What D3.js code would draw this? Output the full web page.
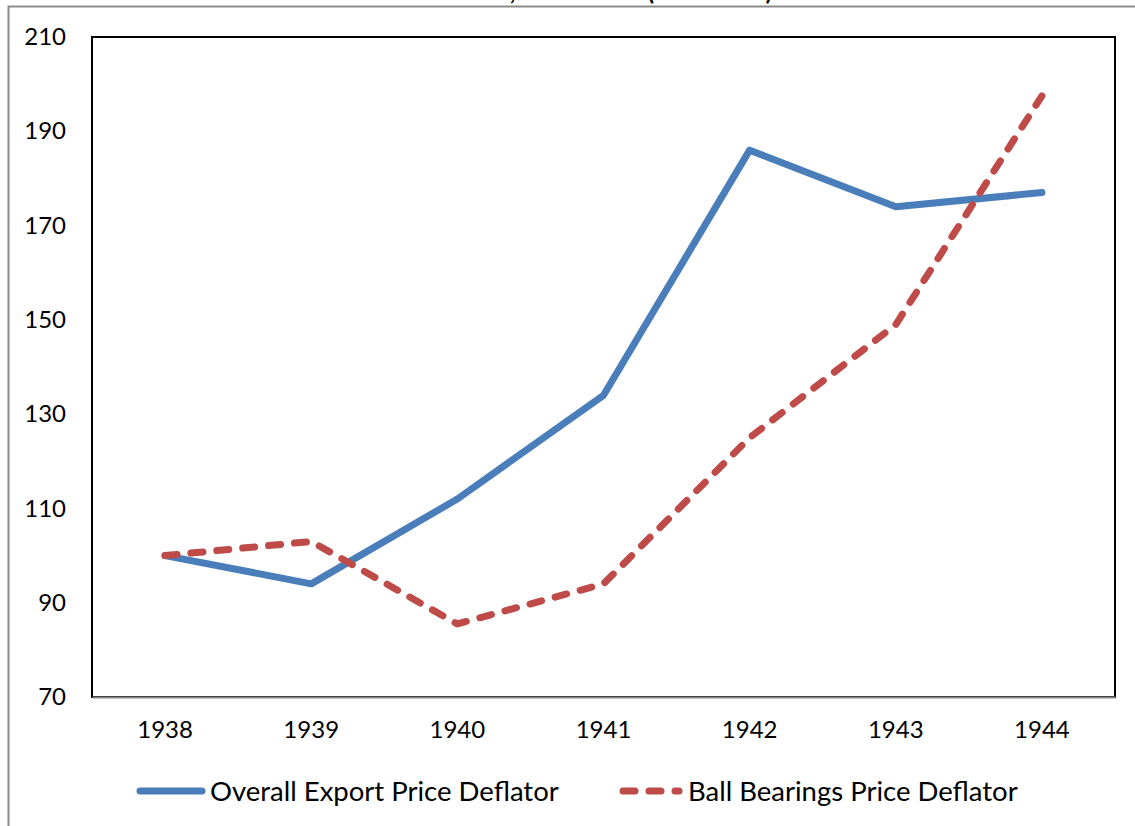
<!DOCTYPE html>
<html><head><meta charset="utf-8">
<script src="https://cdn.jsdelivr.net/npm/d3@7"></script>
<style>
html,body{margin:0;padding:0;background:#fff;}
svg{display:block;}
text{font-family:Lato,"Open Sans",sans-serif;fill:#000;}
</style></head>
<body>
<svg id="chart" width="1135" height="826"></svg>
<script>
const years = ["1938","1939","1940","1941","1942","1943","1944"];
const overallExport = [100, 94, 112, 134, 186, 174, 177];
const ballBearings = [100, 103, 85.5, 94, 125, 149, 197.5];
const yTicks = [70, 90, 110, 130, 150, 170, 190, 210];
const seriesNames = ["Overall Export Price Deflator", "Ball Bearings Price Deflator"];
const seriesColors = ["#4a7ebb", "#be4b48"];

const svg = d3.select("#chart");
const plot = {left: 92, right: 1115, top: 37, bottom: 697};

// outer chart border (cropped)
svg.append("rect").attr("x", 8.5).attr("y", 6.5).attr("width", 1200).attr("height", 1000)
  .attr("fill", "none").attr("stroke", "#8c8c8c").attr("stroke-width", 2);

// title (cropped above the frame)
svg.append("text").attr("x", 772).attr("y", -0.5).attr("text-anchor", "end")
  .style("font-size", "24px").style("font-weight", "bold")
  .text("Sweden, 1938-1944 (1938=100)");

const x = d3.scaleBand().domain(years).range([plot.left, plot.right]);
const y = d3.scaleLinear().domain([70, 210]).range([plot.bottom, plot.top]);

// plot area frame
svg.append("rect").attr("x", plot.left).attr("y", plot.top)
  .attr("width", plot.right - plot.left).attr("height", plot.bottom - plot.top)
  .attr("fill", "none").attr("stroke", "#000").attr("stroke-width", 2);

// y axis labels
const yAxis = d3.axisLeft(y).tickValues(yTicks).tickSize(0).tickPadding(26);
const gy = svg.append("g").attr("transform", `translate(${plot.left},0)`).call(yAxis);
gy.select(".domain").remove();
gy.selectAll("text").style("font-size", "24px").style("font-family", "Lato,sans-serif");

// x axis
const xAxis = d3.axisBottom(x).tickSize(0).tickPadding(24);
const gx = svg.append("g").attr("transform", `translate(0,${plot.bottom})`).call(xAxis);
gx.select(".domain").attr("stroke", "#868686").attr("stroke-width", 2);
gx.selectAll("text").style("font-size", "24px").style("font-family", "Lato,sans-serif");

const line = d3.line().x((d, i) => x(years[i]) + x.bandwidth() / 2).y(d => y(d));

svg.append("path").datum(overallExport).attr("d", line)
  .attr("fill", "none").attr("stroke", seriesColors[0]).attr("stroke-width", 7)
  .attr("stroke-linecap", "round").attr("stroke-linejoin", "round");

svg.append("path").datum(ballBearings).attr("d", line)
  .attr("fill", "none").attr("stroke", seriesColors[1]).attr("stroke-width", 7)
  .attr("stroke-linecap", "round").attr("stroke-linejoin", "round")
  .attr("stroke-dasharray", "12,14");

// legend
const legendY = 791;
const legendItems = [
  {x1: 140, x2: 202, tx: 210, dash: null},
  {x1: 623, x2: 679, tx: 688, dash: "12,14"}
];
legendItems.forEach((it, i) => {
  const ln = svg.append("line").attr("x1", it.x1).attr("x2", it.x2)
    .attr("y1", legendY).attr("y2", legendY)
    .attr("stroke", seriesColors[i]).attr("stroke-width", 7).attr("stroke-linecap", "round");
  if (it.dash) ln.attr("stroke-dasharray", it.dash);
  svg.append("text").attr("x", it.tx).attr("y", legendY).attr("dy", "0.35em")
    .style("font-size", "27.5px").text(seriesNames[i]);
});
</script>
</body></html>
